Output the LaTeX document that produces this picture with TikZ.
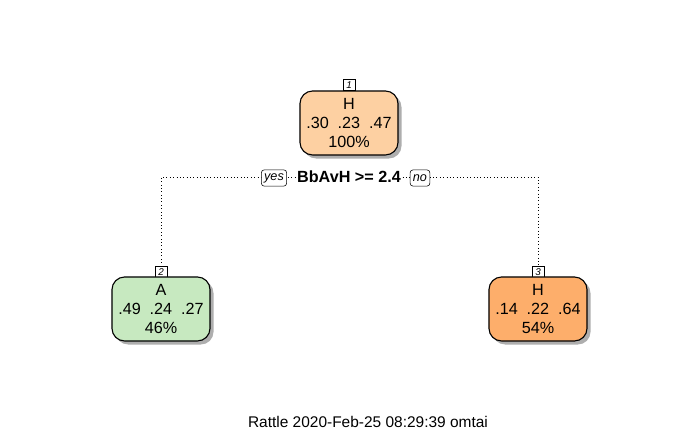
\documentclass[tikz,border=0pt]{standalone}
\usepackage{fontspec}
\setmainfont{Liberation Sans}
\usetikzlibrary{shadows}
\definecolor{leafA}{HTML}{C7E9C0}
\definecolor{leafH}{HTML}{FDD0A2}
\definecolor{leafHH}{HTML}{FDAE6B}
\tikzset{
  leaf/.style={draw,thick,rounded corners=9pt,minimum width=2.45cm,minimum height=1.6cm,
    align=center,font=\fontsize{11.5}{13.5}\selectfont,
    drop shadow={shadow xshift=2.5pt,shadow yshift=-2.5pt,fill=black!45,opacity=0.7}},
  nodeid/.style={draw,fill=white,inner sep=1pt,minimum width=8.5pt,minimum height=8pt,
    font=\fontsize{7}{7}\selectfont\itshape},
  yesno/.style={draw,fill=white,rounded corners=2pt,inner sep=2pt,minimum height=11.5pt,
    font=\fontsize{9}{9}\selectfont\itshape},
}
\begin{document}
\begin{tikzpicture}[x=0.025cm,y=-0.025cm]
\useasboundingbox (0,0) rectangle (700,432);
% connector behind the labels
\coordinate (split) at (349,177);
\node[nodeid] (id2) at (161,272) {2};
\node[nodeid] (id3) at (538,272) {3};
\draw[dotted] (id2.north) |- (split) -| (id3.north);
% the tree
\node[leaf,fill=leafH] (n1) at (349,123) {H\\.30\ \ .23\ \ .47\\100\%};
\node[nodeid] (id1) at (349,85) {1};
\node[leaf,fill=leafA] (n2) at (161,309) {A\\.49\ \ .24\ \ .27\\46\%};
\node[leaf,fill=leafHH] (n3) at (538,309) {H\\.14\ \ .22\ \ .64\\54\%};
\node[fill=white,inner sep=1pt,font=\fontsize{11.5}{12}\selectfont\bfseries] (cond) at (split) {BbAvH >= 2.4};
\node[yesno] (yes) at (274,178) {yes};
\node[yesno] (no) at (420,178) {no};
\node[font=\fontsize{11}{12}\selectfont] (footer) at (368,422) {Rattle 2020-Feb-25 08:29:39 omtai};
\end{tikzpicture}
\end{document}
